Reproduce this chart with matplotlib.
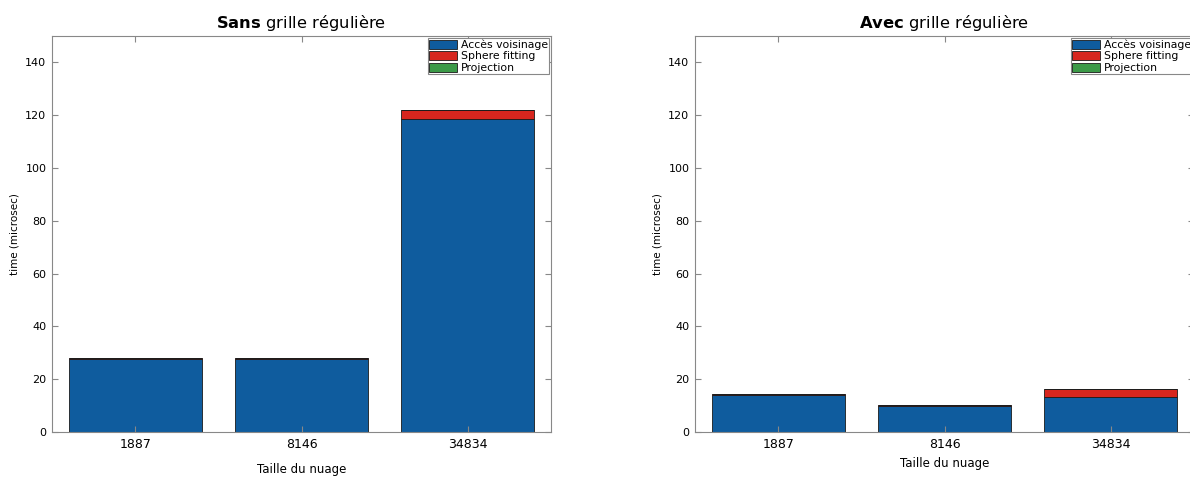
import matplotlib
matplotlib.use("Agg")
import matplotlib.pyplot as plt
import numpy as np

tailles = ["1887", "8146", "34834"]
composantes = ["Accès voisinage", "Sphere fitting", "Projection"]

# temps (microsec)
sans_grille = {
    "Accès voisinage": [27.8, 27.8, 118.5],
    "Sphere fitting": [0.2, 0.2, 3.5],
    "Projection": [0.0, 0.0, 0.1],
}
avec_grille = {
    "Accès voisinage": [14.2, 10.0, 13.3],
    "Sphere fitting": [0.2, 0.2, 3.0],
    "Projection": [0.0, 0.0, 0.1],
}

couleurs = ["#0f5c9e", "#d7261e", "#3c9a48"]

fig = plt.figure(figsize=(11.9, 4.8), dpi=100)
W, H = 1190.0, 480.0
ax1 = fig.add_axes([52 / W, 48 / H, 499 / W, 396 / H])
ax2 = fig.add_axes([695 / W, 48 / H, 499 / W, 396 / H])


def dessine(ax, donnees, mot, xlabelpad):
    x = np.arange(1, len(tailles) + 1)
    bas = np.zeros(len(tailles))
    for comp, c in zip(composantes, couleurs):
        vals = np.array(donnees[comp])
        ax.bar(x, vals, bottom=bas, width=0.8, color=c, edgecolor="#1a1a1a",
               linewidth=0.6, label=comp)
        bas = bas + vals
    ax.set_xlim(0.5, 3.5)
    ax.set_ylim(0, 150)
    ax.set_xticks(x)
    ax.set_xticklabels(tailles, fontsize=9)
    ax.set_yticks(range(0, 141, 20))
    ax.tick_params(axis="y", labelsize=8)
    ax.tick_params(direction="in", top=True, right=True, length=4,
                   color="#888888", pad=4)
    for s in ax.spines.values():
        s.set_color("#888888")
        s.set_linewidth(0.8)
    ax.set_title(r"$\bf{" + mot + "}$ grille régulière", fontsize=11.8, pad=6)
    ax.set_xlabel("Taille du nuage", fontsize=8.5, labelpad=xlabelpad)
    ax.set_ylabel("time (microsec)", fontsize=7.5, labelpad=4)
    leg = ax.legend(loc="upper right", fontsize=7.8, fancybox=False,
                    edgecolor="#888888", framealpha=1, borderpad=0.15,
                    labelspacing=0.12, handlelength=2.6, handleheight=0.9,
                    handletextpad=0.3, borderaxespad=0.15)
    leg.get_frame().set_linewidth(0.8)


dessine(ax1, sans_grille, "Sans", 9)
dessine(ax2, avec_grille, "Avec", 5)

plt.savefig("out.png", dpi=100)
plt.close()
